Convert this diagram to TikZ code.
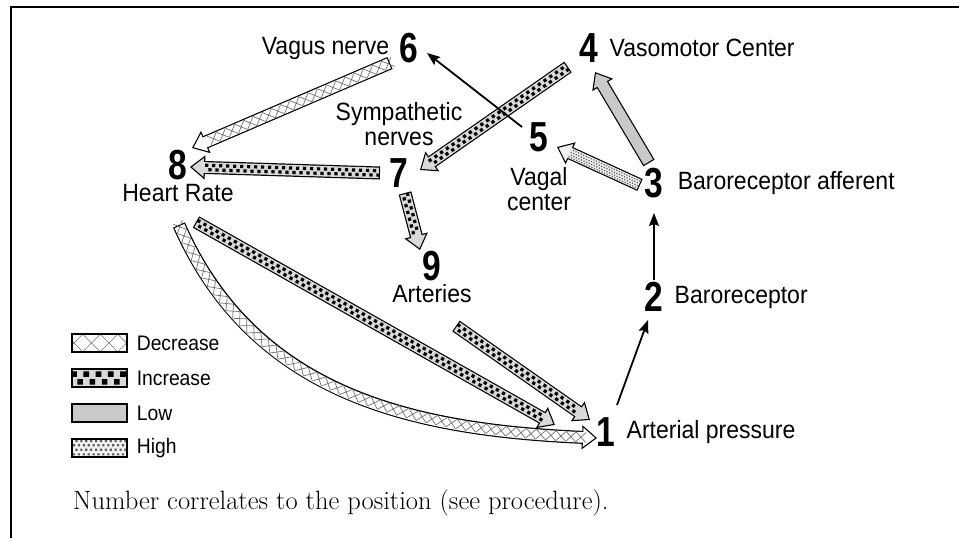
\documentclass[tikz,border=0pt]{standalone}
\usepackage{fontspec}
\usetikzlibrary{arrows.meta, positioning, calc, decorations.markings}
\newfontfamily\labelfont[FakeStretch=0.92]{Liberation Sans}
\newfontfamily\numfont[FakeStretch=0.8]{Liberation Sans}
\colorlet{decrfill}{white}
\colorlet{incrfill}{gray!30}
\colorlet{lowfill}{gray!42}
\colorlet{highfill}{gray!12}

% hollow arrow: outline, head, core, grain
\newcommand{\fatarrow}[4]{%
  \draw[fat shaft] (#2) #3 (#4);
  \path[fat head=#1fill] (#2) #3 (#4);
  \draw[fat core, draw=#1fill] (#2) #3 (#4);
  \path[#1 grain] (#2) #3 (#4);
}

\begin{document}
\begin{tikzpicture}[x=1pt, y=-1pt,
    num/.style={font=\numfont\bfseries\fontsize{42}{42}\selectfont, inner sep=0pt},
    lbl/.style={font=\labelfont\fontsize{25}{25}\selectfont, inner sep=0pt, align=center},
    key/.style={font=\labelfont\fontsize{21}{21}\selectfont, inner sep=0pt},
    note/.style={font=\fontsize{26.5}{30}\selectfont, inner sep=0pt, anchor=west},
    frame/.style={line width=1.5pt},
    link/.style={line width=1.8pt, -{Stealth[length=13pt, width=10pt, inset=2pt]}},
    fat shaft/.style={line width=13pt, shorten >=12pt},
    fat core/.style={line width=10.6pt, shorten >=13pt, shorten <=1.2pt},
    fat head/.style={decorate, decoration={markings,
        mark=at position 0.9999 with {\arrow[line width=1.1pt]{Triangle[length=15pt, width=24pt, fill=#1]}}}},
    decr grain/.style={decorate, decoration={markings,
        mark=between positions 2pt and -15pt step 10pt*#1 with {\draw[black!55, line width=0.7pt]
          ({-5pt*#1},{-5pt*#1}) -- ({5pt*#1},{5pt*#1}) ({-5pt*#1},{5pt*#1}) -- ({5pt*#1},{-5pt*#1});}}},
    decr grain/.default=1,
    incr grain/.style={decorate, decoration={markings,
        mark=between positions 2pt and -15pt step 7pt*#1 with {\fill[black]
          ({-1.6pt*#1},{0.6pt*#1}) rectangle ({1.6pt*#1},{3.8pt*#1})
          ({1.9pt*#1},{-3.8pt*#1}) rectangle ({5.1pt*#1},{-0.6pt*#1});}}},
    incr grain/.default=1,
    high grain/.style={decorate, decoration={markings,
        mark=between positions 2pt and -15pt step 2.8pt*#1 with {\fill[gray!70!black]
          ({-0.6pt*#1},{-4.2pt*#1}) rectangle ({0.6pt*#1},{-3pt*#1})
          ({0.8pt*#1},{-1.6pt*#1}) rectangle ({2pt*#1},{-0.4pt*#1})
          ({-0.6pt*#1},{1pt*#1}) rectangle ({0.6pt*#1},{2.2pt*#1})
          ({0.8pt*#1},{3.4pt*#1}) rectangle ({2pt*#1},{4.6pt*#1});}}},
    high grain/.default=1,
    low grain/.style={},
    swatch/.style={draw, line width=1.2pt, minimum width=55pt, minimum height=18pt, inner sep=0pt,
        fill=#1fill, path picture={\path[#1 grain=1.75] (path picture bounding box.west)
          -- ([xshift=16pt]path picture bounding box.east);}},
]
    \useasboundingbox (0,0) rectangle (959,538);
    \draw[frame] (959,7) -- (11,7) -- (11,538);

    % positions
    \node[num] (n1) at (606,432) {1};
    \node[lbl, right=11pt of n1] (l1) {Arterial pressure};
    \node[num] (n2) at (654,297) {2};
    \node[lbl, right=11pt of n2] (l2) {Baroreceptor};
    \node[num] (n3) at (654,183) {3};
    \node[lbl, right=14pt of n3] (l3) {Baroreceptor afferent};
    \node[num] (n4) at (589,48) {4};
    \node[lbl, right=11pt of n4] (l4) {Vasomotor Center};
    \node[num] (n5) at (539,137) {5};
    \node[lbl, below=15pt of n5] (l5) {Vagal\\center};
    \node[num] (n6) at (409,48) {6};
    \node[lbl, left=10pt of n6] (l6) {Vagus nerve};
    \node[num] (n7) at (399,173) {7};
    \node[lbl, above=12pt of n7] (l7) {Sympathetic\\nerves};
    \node[num] (n8) at (178,165) {8};
    \node[lbl, below=4pt of n8] (l8) {Heart Rate};
    \node[num] (n9) at (432,266) {9};
    \node[lbl, below=3pt of n9] (l9) {Arteries};

    % hollow arrows
    \fatarrow{decr}{$(n6)+(-19,15)$}{--}{$(n8)+(14,-17)$}
    \fatarrow{incr}{$(n7)+(-19,0)$}{--}{$(n8)+(12,2)$}
    \fatarrow{incr}{$(n4)+(-21,19)$}{--}{$(n7)+(21,-3)$}
    \fatarrow{incr}{$(n7)+(6,20)$}{--}{$(n9)+(-12,-16)$}
    \fatarrow{incr}{$(n9)+(24,60)$}{--}{$(n1)+(-16,-12)$}
    \fatarrow{incr}{$(n8)+(18,57)$}{--}{$(n1)+(-51,-7)$}
    \fatarrow{decr}{$(n8)+(1,60)$}{.. controls +(75,170) and +(-185,-8) ..}{$(n1)+(-9,6)$}
    \fatarrow{low}{$(n3)+(-5,-20)$}{--}{$(n4)+(6,24)$}
    \fatarrow{high}{$(n3)+(-14,2)$}{--}{$(n5)+(18,10)$}

    % plain arrows
    \draw[link] ($(n5)+(-17,-10)$) -- ($(n6)+(18,5)$);
    \draw[link] ($(n1)+(11,-27)$) -- ($(n2)+(-6,23)$);
    \draw[link] ($(n2)+(0,-17)$) -- ($(n3)+(0,30)$);

    % legend
    \node[swatch=decr] (sw1) at (99.5,343) {};
    \node[key, right=9pt of sw1] {Decrease};
    \node[swatch=incr] (sw2) at (99.5,378) {};
    \node[key, right=9pt of sw2] {Increase};
    \node[swatch=low] (sw3) at (99.5,413) {};
    \node[key, right=9pt of sw3] {Low};
    \node[swatch=high] (sw4) at (99.5,448) {};
    \node[key, right=9pt of sw4] {High};

    \node[note] (note) at (73,503) {Number correlates to the position (see procedure).};
\end{tikzpicture}
\end{document}
